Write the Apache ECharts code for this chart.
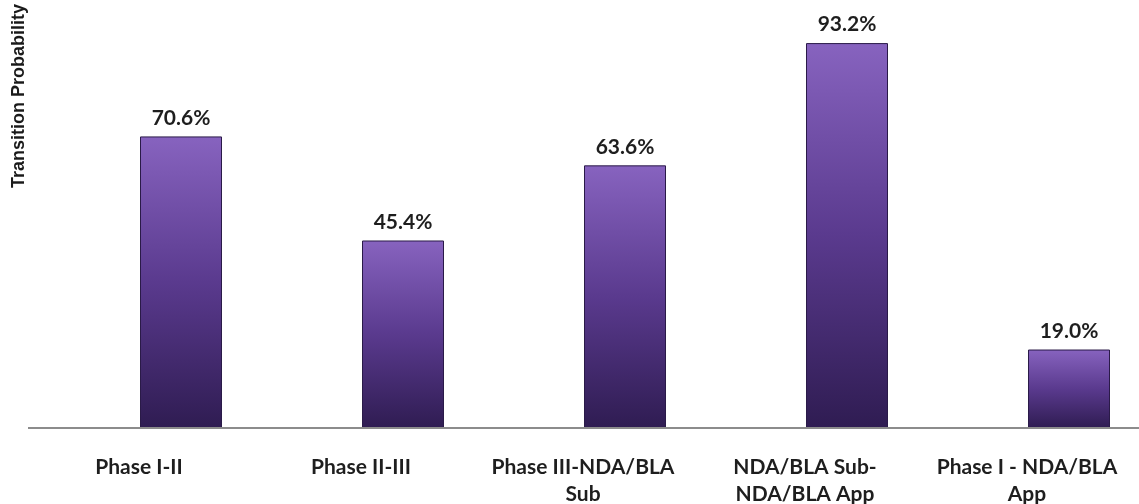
<!DOCTYPE html>
<html>
<head>
<meta charset="utf-8">
<script src="https://cdn.jsdelivr.net/npm/echarts@6/dist/echarts.min.js"></script>
<style>html,body{margin:0;padding:0;background:#fff;}#c{width:1139px;height:504px;}</style>
</head>
<body>
<div id="c"></div>
<script>
const categories = ['Phase I-II', 'Phase II-III', 'Phase III-NDA/BLA\nSub', 'NDA/BLA Sub-\nNDA/BLA App', 'Phase I - NDA/BLA\nApp'];
const values = [70.6, 45.4, 63.6, 93.2, 19.0];
const yAxisName = 'Transition Probability';

const chart = echarts.init(document.getElementById('c'));
chart.setOption({
  animation: false,
  backgroundColor: '#fff',
  grid: { left: 70, width: 1110, top: 15, bottom: 76, containLabel: false, outerBoundsMode: 'none' },
  xAxis: {
    type: 'category',
    data: categories,
    axisLine: { show: false },
    axisTick: { show: false },
    axisLabel: {
      interval: 0,
      margin: 26,
      color: '#1e1e1e',
      fontFamily: 'Lato, "Open Sans", sans-serif',
      fontWeight: 'bold',
      fontSize: 21,
      lineHeight: 27,
      padding: [0, 84, 0, 0]
    }
  },
  yAxis: {
    type: 'value',
    min: 0,
    max: 100,
    show: false,
    splitLine: { show: false }
  },
  graphic: [
    { type: 'line', shape: { x1: 28, y1: 428, x2: 1139, y2: 428 }, style: { stroke: '#8c8c8c', lineWidth: 2 }, z: 10 },
    { type: 'text', rotation: Math.PI / 2, x: 10, y: 96,
      style: { text: yAxisName, fill: '#1a1a1a', font: 'bold 18px "Liberation Sans", Arial, sans-serif', textAlign: 'center', textVerticalAlign: 'top' } }
  ],
  series: [{
    type: 'bar',
    data: values,
    barWidth: 82,
    itemStyle: {
      color: new echarts.graphic.LinearGradient(0, 0, 0, 1, [
        { offset: 0, color: '#8763bf' },
        { offset: 0.5, color: '#5a3a8e' },
        { offset: 1, color: '#2f1c52' }
      ]),
      borderColor: '#2a1a48',
      borderWidth: 1
    },
    label: {
      show: true,
      position: 'top',
      distance: 8,
      formatter: p => p.value.toFixed(1) + '%',
      color: '#1e1e1e',
      fontFamily: 'Lato, "Open Sans", sans-serif',
      fontWeight: 'bold',
      fontSize: 21
    }
  }]
});
</script>
</body>
</html>
